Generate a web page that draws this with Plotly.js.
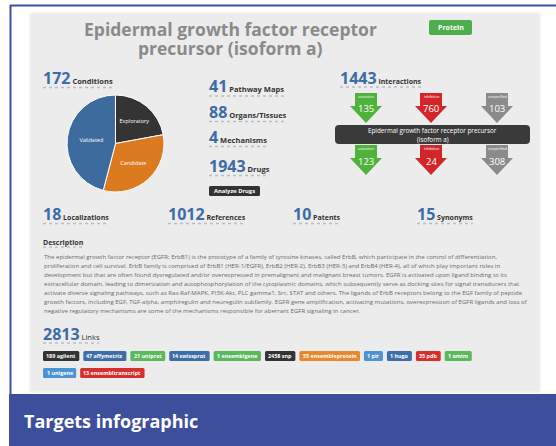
<!DOCTYPE html>
<html><head><meta charset="utf-8">
<script src="https://cdn.plot.ly/plotly-3.0.1.min.js"></script>
<style>html,body{margin:0;padding:0;background:#fff;overflow:hidden}#chart{width:556px;height:446px}</style>
</head><body><div id="chart"></div>
<script>
// ---------------- data ----------------
const titleLines = ['Epidermal growth factor receptor', 'precursor (isoform a)'];
const conditionTotal = 172;
const conditionCategories = ['Exploratory', 'Candidate', 'Validated'];
const conditionCounts = [38, 55, 79];
const conditionColors = ['#343434', '#db7a1f', '#3d6b9e'];

const statLabels = ['Pathway Maps', 'Organs/Tissues', 'Mechanisms', 'Drugs'];
const statValues = [41, 88, 4, 1943];

const rowLabels = ['Localizations', 'References', 'Patents', 'Synonyms'];
const rowValues = [18, 1012, 10, 15];

const interactionTotal = 1443;
const interactionTypes = ['activation', 'inhibition', 'unspecified'];
const interactionsUpstream = [135, 760, 103];
const interactionsDownstream = [123, 24, 308];
const interactionColors = ['#4fb23a', '#d2262b', '#8b8b8b'];

const descriptionLines = [
 'The epidermal growth factor receptor (EGFR; ErbB1) is the prototype of a family of tyrosine kinases, called ErbB, which participate in the control of differentiation,',
 'proliferation and cell survival. ErbB family is comprised of ErbB1 (HER-1/EGFR), ErbB2 (HER-2), ErbB3 (HER-3) and ErbB4 (HER-4), all of which play important roles in',
 'development but that are often found dysregulated and/or overexpressed in premalignant and malignant breast tumors. EGFR is activated upon ligand binding to its',
 'extracellular domain, leading to dimerization and autophosphorylation of the cytoplasmic domains, which subsequently serve as docking sites for signal transducers that',
 'activate diverse signaling pathways, such as Ras-Raf-MAPK, PI3K-Akt, PLC gamma1, Src, STAT and others. The ligands of ErbB receptors belong to the EGF family of peptide',
 'growth factors, including EGF, TGF-alpha, amphiregulin and neuregulin subfamily. EGFR gene amplification, activating mutations, overexpression of EGFR ligands and loss of',
 'negative regulatory mechanisms are some of the mechanisms responsible for aberrant EGFR signaling in cancer.'
];

const linkTotal = 2813;
const linkSources = ['agilent','affymetrix','uniprot','swissprot','ensemblgene','snp','ensembleprotein','pir','hugo','pdb','omim','unigene','ensembltranscript'];
const linkCounts = [189, 47, 21, 14, 1, 2458, 55, 1, 1, 35, 1, 1, 13];
const linkColors = ['#333333','#3e6ea8','#5cb85c','#3e6ea8','#5cb85c','#333333','#e8872b','#4b93d1','#3e6ea8','#d6302c','#5cb85c','#4b93d1','#d6302c'];

// ---------------- helpers ----------------
const W = 556, H = 446;
const X = x => x / W, Y = y => 1 - y / H;
const FONT = 'Open Sans';
const BLUE = '#3c6ba7';
const ctx = document.createElement('canvas').getContext('2d');
function tw(t, size, weight) { ctx.font = (weight || 'normal') + ' ' + size + 'px "' + FONT + '"'; return ctx.measureText(t).width; }
const shapes = [], annotations = [];
function rect(x0, y0, x1, y1, fill, r, layer, line) {
  r = r || 0;
  const p = `M ${X(x0 + r)},${Y(y0)} L ${X(x1 - r)},${Y(y0)} Q ${X(x1)},${Y(y0)} ${X(x1)},${Y(y0 + r)} L ${X(x1)},${Y(y1 - r)} Q ${X(x1)},${Y(y1)} ${X(x1 - r)},${Y(y1)} L ${X(x0 + r)},${Y(y1)} Q ${X(x0)},${Y(y1)} ${X(x0)},${Y(y1 - r)} L ${X(x0)},${Y(y0 + r)} Q ${X(x0)},${Y(y0)} ${X(x0 + r)},${Y(y0)} Z`;
  shapes.push({type: 'path', xref: 'paper', yref: 'paper', path: p, fillcolor: fill, line: line || {width: 0}, layer: layer || 'above'});
}
function hline(x0, x1, y, color, width, dash) {
  shapes.push({type: 'line', xref: 'paper', yref: 'paper', x0: X(x0), x1: X(x1), y0: Y(y), y1: Y(y), line: {color: color, width: width, dash: dash || 'solid'}, layer: 'above'});
}
function vline(x, y0, y1, color, width) {
  shapes.push({type: 'line', xref: 'paper', yref: 'paper', x0: X(x), x1: X(x), y0: Y(y0), y1: Y(y1), line: {color: color, width: width}, layer: 'above'});
}
function ann(x, y, text, size, color, opts) {
  annotations.push(Object.assign({xref: 'paper', yref: 'paper', x: X(x), y: Y(y), text: text, showarrow: false,
    xanchor: 'center', yanchor: 'middle', borderpad: 0, font: {family: FONT, size: size, color: color}}, opts || {}));
}
function stat(x, yc, value, label, labelSize) {
  ann(x - 1, yc, `<b>${value}</b><b><span style="font-size:${labelSize}px;color:#333"> ${label}</span></b>`, 16, BLUE, {xanchor: 'left'});
  const w = tw(String(value), 16, 'bold') + tw(' ' + label, labelSize, 'bold');
  hline(x, x + w, yc + 9.5, '#b9bdc9', 1.6, 'dot');
}
function downArrow(cx, y0, color) {
  const p = `M ${X(cx - 11)},${Y(y0)} L ${X(cx + 11)},${Y(y0)} L ${X(cx + 11)},${Y(y0 + 13)} L ${X(cx + 16)},${Y(y0 + 13)} L ${X(cx)},${Y(y0 + 30)} L ${X(cx - 16)},${Y(y0 + 13)} L ${X(cx - 11)},${Y(y0 + 13)} Z`;
  shapes.push({type: 'path', xref: 'paper', yref: 'paper', path: p, fillcolor: color, line: {width: 0}, layer: 'above'});
}

// ---------------- frame ----------------
rect(30, 13, 540, 392, '#ececec', 3, 'below', {color: '#f2f2f2', width: 2});
hline(10, 556, 5.5, '#3d4f9c', 2);
vline(10.5, 5, 395, '#3d4f9c', 2);
rect(9, 394, 556, 446, '#3d4f9c', 0, 'above');
ann(23, 420.5, '<b>Targets infographic</b>', 18, '#ffffff', {xanchor: 'left'});

// ---------------- title ----------------
ann(230, 29, '<b>' + titleLines[0] + '</b>', 17.5, '#8a8a8a');
ann(230, 48, '<b>' + titleLines[1] + '</b>', 17.5, '#8a8a8a');
rect(429, 20, 472, 35, '#4cae4c', 2);
ann(450.5, 27.5, '<b>Protein</b>', 7, '#ffffff');

// ---------------- conditions ----------------
stat(43, 78, conditionTotal, 'Conditions', 7.5);

// ---------------- middle stats ----------------
const statY = [86.5, 112, 137, 166];
statValues.forEach((v, i) => stat(209, statY[i], v, statLabels[i], 7.5));
rect(209, 186, 260, 196, '#333333', 1.5);
ann(234.5, 191, '<b>Analyze Drugs</b>', 5.8, '#ffffff');

// ---------------- interactions ----------------
stat(340, 77.5, interactionTotal, 'Interactions', 7);
const arrowX = [366, 431, 497];
interactionTypes.forEach((t, i) => {
  downArrow(arrowX[i], 93, interactionColors[i]);
  downArrow(arrowX[i], 145, interactionColors[i]);
  ann(arrowX[i], 97, t, 3.5, '#ffffff');
  ann(arrowX[i], 149, t, 3.5, '#ffffff');
  ann(arrowX[i], 108, String(interactionsUpstream[i]), 9.5, '#ffffff');
  ann(arrowX[i], 161, String(interactionsDownstream[i]), 9.5, '#ffffff');
});
rect(335, 125, 530, 144, '#3a3a3a', 4);
ann(432.5, 130.5, titleLines[0] + ' precursor', 6.3, '#ffffff');
ann(432.5, 139, '(isoform a)', 6.3, '#ffffff');

// ---------------- row stats ----------------
const rowX = [43, 168, 293, 417];
rowValues.forEach((v, i) => stat(rowX[i], 214, v, rowLabels[i], 7));

// ---------------- description ----------------
ann(42, 242, '<b>Description</b>', 7, '#333333', {xanchor: 'left'});
hline(43, 43 + tw('Description', 7, 'bold'), 247, '#b9bdc9', 1.4, 'dot');
const descMax = Math.max.apply(null, descriptionLines.map(l => tw(l, 6)));
const descSize = 6 * 484 / descMax;
descriptionLines.forEach((l, i) => ann(42.5, 257 + 9 * i, l, descSize, '#6a6a6a', {xanchor: 'left'}));

// ---------------- links ----------------
ann(42, 333.5, `<b>${linkTotal}</b><span style="font-size:7.5px;color:#333"> Links</span>`, 16, BLUE, {xanchor: 'left'});
hline(43, 43 + tw(String(linkTotal), 16, 'bold') + tw(' Links', 7.5), 343, '#b9bdc9', 1.6, 'dot');
let bx = 43, by = 351;
linkSources.forEach((s, i) => {
  const t = linkCounts[i] + ' ' + s;
  const w = tw(t, 5.4, 'bold') + 7;
  if (bx + w > 505) { bx = 43; by += 17; }
  rect(bx, by, bx + w, by + 10, linkColors[i], 1.5);
  ann(bx + w / 2, by + 5, '<b>' + t + '</b>', 5.4, '#ffffff');
  bx += w + 4;
});

// ---------------- pie ----------------
const pie = {
  type: 'pie', labels: conditionCategories, values: conditionCounts,
  marker: {colors: conditionColors, line: {color: '#ffffff', width: 1}},
  sort: false, direction: 'clockwise', rotation: 0,
  textinfo: 'label', textposition: 'inside', insidetextorientation: 'horizontal',
  textfont: {family: FONT, size: 5.5, color: '#ffffff'},
  hoverinfo: 'label+value', showlegend: false,
  domain: {x: [X(66), X(165)], y: [Y(192), Y(95)]}
};

Plotly.newPlot('chart', [pie], {
  width: W, height: H, margin: {l: 0, r: 0, t: 0, b: 0},
  paper_bgcolor: '#ffffff', plot_bgcolor: '#ffffff', showlegend: false,
  shapes: shapes, annotations: annotations
}, {displayModeBar: false, staticPlot: true});
</script></body></html>
